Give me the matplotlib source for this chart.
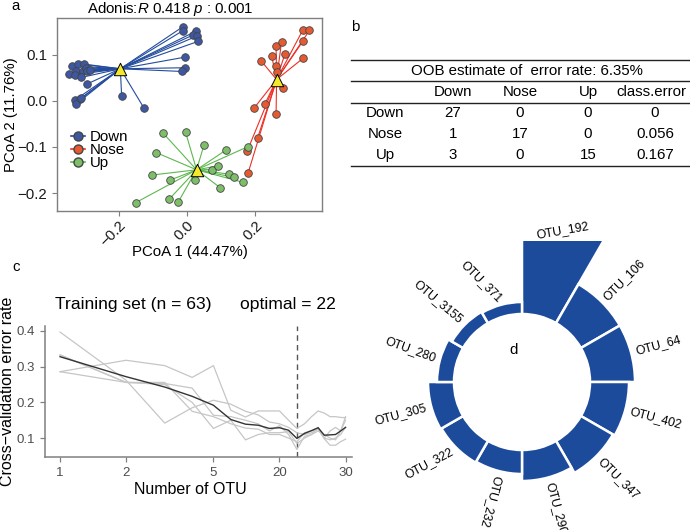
import numpy as np
import matplotlib
matplotlib.use("Agg")
import matplotlib.pyplot as plt
from matplotlib.lines import Line2D
from matplotlib.transforms import Bbox, TransformedBbox

plt.rcParams['font.family'] = ['Liberation Sans', 'DejaVu Sans']
plt.rcParams['mathtext.fontset'] = 'custom'
plt.rcParams['mathtext.rm'] = 'Liberation Sans'
plt.rcParams['mathtext.it'] = 'Liberation Sans:italic'
plt.rcParams['axes.unicode_minus'] = True

# ---------------- data ----------------
groups = ["Down", "Nose", "Up"]
down_x = [-0.011, -0.013, 0.028, 0.019, 0.030, 0.032, -0.006, -0.006, -0.016, -0.192, -0.126,
          -0.338, -0.320, -0.303, -0.346, -0.326, -0.307, -0.297, -0.293, -0.329, -0.310,
          -0.293, -0.329, -0.315, -0.326, -0.310, -0.285]
down_y = [0.1615, 0.152, 0.152, 0.1435, 0.141, 0.129, 0.095, 0.072, 0.064, 0.011, -0.016,
          0.076, 0.080, 0.080, 0.059, 0.065, 0.065, 0.071, 0.066, 0.057, 0.051,
          0.037, 0.002, 0.004, -0.007, 0.006, 0.067]
nose_x = [0.340, 0.360, 0.342, 0.342, 0.262, 0.278, 0.288, 0.249, 0.218, 0.262, 0.266, 0.283,
          0.229, 0.198, 0.262, 0.208, 0.177, 0.180]
nose_y = [0.153, 0.153, 0.131, 0.093, 0.120, 0.128, 0.102, 0.098, 0.087, 0.075, 0.062, 0.029,
          -0.007, -0.015, -0.028, -0.080, -0.109, -0.156]
up_x = [-0.070, -0.004, 0.050, -0.091, 0.114, 0.180, -0.104, -0.050, 0.024, 0.073, 0.092,
        0.124, 0.139, 0.166, 0.097, -0.053, -0.026, -0.151]
up_y = [-0.070, -0.068, -0.096, -0.112, -0.107, -0.099, -0.161, -0.172, -0.172, -0.149, -0.141,
        -0.159, -0.166, -0.177, -0.188, -0.214, -0.220, -0.221]
pcoa_xticks = [-0.2, 0.0, 0.2]
pcoa_yticks = [-0.2, -0.1, 0.0, 0.1]

classes = ["Down", "Nose", "Up"]
confusion = [[27, 0, 0], [1, 17, 0], [3, 0, 15]]
class_error = ["0", "0.056", "0.167"]
oob_rate = "6.35%"

n_otu = list(range(1, 21))
cv_runs = [
    [0.397, 0.262, 0.142, 0.185, 0.206, 0.195, 0.175, 0.165, 0.145, 0.140, 0.130, 0.115, 0.110, 0.115, 0.125, 0.098, 0.080, 0.080, 0.090, 0.097],
    [0.286, 0.318, 0.303, 0.270, 0.303, 0.178, 0.159, 0.176, 0.176, 0.176, 0.150, 0.127, 0.140, 0.160, 0.176, 0.170, 0.160, 0.160, 0.158, 0.157],
    [0.333, 0.256, 0.253, 0.240, 0.164, 0.160, 0.150, 0.140, 0.120, 0.135, 0.110, 0.068, 0.105, 0.110, 0.120, 0.110, 0.100, 0.095, 0.120, 0.150],
    [0.286, 0.256, 0.256, 0.175, 0.160, 0.140, 0.128, 0.125, 0.110, 0.110, 0.100, 0.090, 0.115, 0.120, 0.125, 0.100, 0.095, 0.100, 0.110, 0.130],
    [0.333, 0.256, 0.250, 0.200, 0.127, 0.150, 0.095, 0.110, 0.115, 0.115, 0.118, 0.085, 0.100, 0.110, 0.130, 0.100, 0.120, 0.130, 0.120, 0.160],
]
cv_mean = [0.328, 0.272, 0.243, 0.217, 0.192, 0.152, 0.139, 0.136, 0.127, 0.129, 0.122, 0.099,
           0.113, 0.121, 0.129, 0.108, 0.109, 0.110, 0.120, 0.130]
optimal_x = 12
cv_xticks = [1, 2, 5, 10, 20]
cv_xticklabels = ["1", "2", "5", "20", "30"]
cv_yticks = [0.1, 0.2, 0.3, 0.4]

otu_names = ["OTU_192", "OTU_106", "OTU_64", "OTU_402", "OTU_347", "OTU_290",
             "OTU_232", "OTU_322", "OTU_305", "OTU_280", "OTU_3155", "OTU_371"]
otu_importance = [14.0, 4.5, 4.5, 3.9, 3.7, 3.1, 2.4, 2.5, 2.6, 1.7, 1.3, 1.2]

# ---------------- layout helpers ----------------
W, H = 690, 530
fig = plt.figure(figsize=(W / 100, H / 100), dpi=100)
fig.patch.set_facecolor('white')


def rect(l, t, r, b):
    return [l / W, 1 - b / H, (r - l) / W, (b - t) / H]


def fp(x, y):
    return x / W, 1 - y / H


FS = 10.8

# ---------------- panel a ----------------
ax = fig.add_axes(rect(57, 18, 322, 211))
fill = {"Down": "#3D57A2", "Nose": "#E65A32", "Up": "#7DBF68"}
seg = {"Down": "#234C9C", "Nose": "#EE2F25", "Up": "#5DB84E"}
pts = {"Down": (down_x, down_y), "Nose": (nose_x, nose_y), "Up": (up_x, up_y)}
cents = []
for g in groups:
    xs, ys = np.array(pts[g][0]), np.array(pts[g][1])
    cx, cy = xs.mean(), ys.mean()
    cents.append((cx, cy))
    for x, y in zip(xs, ys):
        ax.plot([cx, x], [cy, y], color=seg[g], lw=0.8, zorder=1)
for g in groups:
    ax.scatter(pts[g][0], pts[g][1], s=30, color=fill[g], edgecolor='#444444',
               linewidth=0.6, zorder=3)
ax.scatter([c[0] for c in cents], [c[1] for c in cents], marker='^', s=80,
           color='#F4E82A', edgecolor='black', linewidth=0.7, zorder=4)
ax.set_xlim(-0.382, 0.397)
ax.set_ylim(-0.239, 0.180)
ax.set_xticks(pcoa_xticks)
ax.set_yticks(pcoa_yticks)
ax.set_xticklabels([f"{v:.1f}".replace("-", "\u2212") for v in pcoa_xticks],
                   rotation=45, ha='right', va='top', rotation_mode='anchor')
ax.set_yticklabels([f"{v:.1f}".replace("-", "\u2212") for v in pcoa_yticks])
ax.tick_params(colors='#7f7f7f', labelcolor='#1a1a1a', labelsize=FS, length=3.5, width=0.8)
ax.tick_params(axis='x', pad=2)
for s in ax.spines.values():
    s.set_color('#7f7f7f')
    s.set_linewidth(1.0)
fig.text(*fp(190, 252), "PCoA 1 (44.47%)", ha='center', va='center', fontsize=FS)
fig.text(*fp(11, 115), "PCoA 2 (11.76%)", ha='center', va='center', fontsize=FS, rotation=90)
fig.text(*fp(170, 9), r"Adonis:$\mathit{R}$ 0.418 $\mathit{p}$ : 0.001", ha='center',
         va='center', fontsize=FS)
handles = [Line2D([0], [0], marker='o', color=seg[g], markerfacecolor=fill[g],
                  markeredgecolor='#444444', markersize=6.5, lw=1.2) for g in groups]
ax.legend(handles, groups, loc='upper left', bbox_to_anchor=fp(71, 130),
          bbox_transform=fig.transFigure, frameon=False, fontsize=FS,
          handlelength=0.9, handletextpad=0.35, labelspacing=-0.05, borderpad=0,
          borderaxespad=0)

# ---------------- panel b ----------------
for y in [60, 81, 103, 166]:
    fig.add_artist(Line2D([351 / W, 690 / W], [1 - y / H] * 2, transform=fig.transFigure,
                          color='#222222', lw=1.0))
TS = 10.8
fig.text(*fp(527, 71), f"OOB estimate of  error rate: {oob_rate}", ha='center',
         va='center', fontsize=TS)
col_x = [453, 520, 588]
for name, x in zip(classes, col_x):
    fig.text(*fp(x, 92), name, ha='center', va='center', fontsize=TS)
fig.text(*fp(651, 92), "class.error", ha='center', va='center', fontsize=TS)
for i, cls in enumerate(classes):
    yy = 113 + 21 * i
    fig.text(*fp(385, yy), cls, ha='center', va='center', fontsize=TS)
    for j in range(3):
        fig.text(*fp(col_x[j], yy), str(confusion[i][j]), ha='center', va='center', fontsize=TS)
    fig.text(*fp(655, yy), class_error[i], ha='center', va='center', fontsize=TS)

# ---------------- panel c ----------------
axc = fig.add_axes(rect(45, 326, 352, 457))
axc.set_xscale('log')
for run in cv_runs:
    axc.plot(n_otu, run, color='#c6c6c6', lw=0.9, zorder=1)
axc.plot(n_otu, cv_mean, color='#333333', lw=1.0, zorder=2)
axc.axvline(optimal_x, color='#555555', lw=1.0, ls=(0, (4, 3)), zorder=0)
axc.set_xlim(0.854, 21.4)
axc.set_ylim(0.047, 0.414)
axc.set_xticks(cv_xticks)
axc.set_xticklabels(cv_xticklabels)
axc.minorticks_off()
axc.set_yticks(cv_yticks)
axc.set_yticklabels([f"{v:.1f}" for v in cv_yticks])
axc.tick_params(colors='#808080', labelcolor='#4d4d4d', labelsize=9.5, length=3.5, width=0.9)
for k in ['top', 'right']:
    axc.spines[k].set_visible(False)
for k in ['left', 'bottom']:
    axc.spines[k].set_color('#808080')
    axc.spines[k].set_linewidth(1.1)
fig.text(*fp(190, 489), "Number of OTU", ha='center', va='center', fontsize=11.5)
fig.text(*fp(8, 391), "Cross\u2212validation error rate", ha='center', va='center',
         fontsize=11.5, rotation=90)
fig.text(*fp(55, 305), "Training set (n = 63)", ha='left', va='center', fontsize=12.6)
fig.text(*fp(288, 304), "optimal = 22", ha='center', va='center', fontsize=12.6)

# ---------------- panel d ----------------
R_PX = 170
cxd, cyd = 522, 382
clip_y = 241
axd = fig.add_axes(rect(cxd - R_PX, cyd - R_PX, cxd + R_PX, cyd + R_PX), projection='polar')
axd.set_theta_zero_location('N')
axd.set_theta_direction(-1)
n = len(otu_names)
theta = np.arange(n) * 2 * np.pi / n + np.pi / n
hole = 6.8
rmax = 17.0
bars = axd.bar(theta, otu_importance, width=2 * np.pi / n, bottom=hole, color='#1C4B9C',
               edgecolor='white', linewidth=1.8, align='center')
axd.set_ylim(0, rmax)
axd.set_axis_off()
clipbox = TransformedBbox(Bbox([[0, 0], [1, 1 - clip_y / H]]), fig.transFigure)
for b in bars:
    b.set_clip_box(clipbox)
px_per_unit = R_PX / rmax
label_rot = [10, 45, 15, -15, -45, -75, -105, 28, 15, -20, -40, -45]
for i, name in enumerate(otu_names):
    t = theta[i]
    r_out = hole + otu_importance[i]
    r_vis = (cyd - clip_y) / (px_per_unit * np.cos(t)) if np.cos(t) > 0 else np.inf
    deg = np.degrees(t)
    if r_out > r_vis:
        axd.text(t, r_vis + 1.05, name, rotation=label_rot[i], rotation_mode='anchor',
                 ha='center', va='center', fontsize=8.8)
    else:
        ha = 'left' if deg < 200 else 'right'
        axd.text(t, r_out + 0.5, name, rotation=label_rot[i], rotation_mode='anchor',
                 ha=ha, va='center', fontsize=8.8)

# panel letters
for lab, (x, y) in zip("abcd", [(16, 6), (355, 27), (16, 267), (514, 350)]):
    fig.text(*fp(x, y), lab, ha='center', va='center', fontsize=FS)

fig.savefig("out.png", dpi=100, facecolor='white')
